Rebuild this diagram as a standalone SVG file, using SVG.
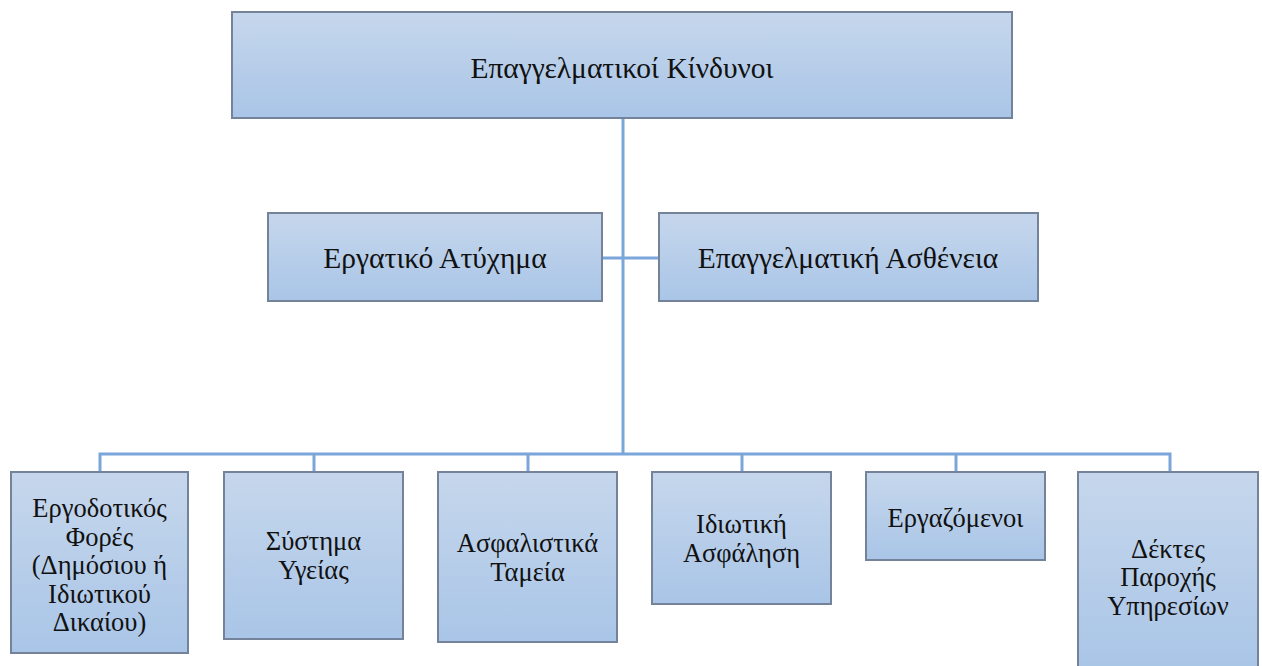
<svg xmlns="http://www.w3.org/2000/svg" width="1262" height="666" viewBox="0 0 1262 666">
  <style>
    .box { fill: url(#boxFill); stroke: #74839a; stroke-width: 2; }
    .conn { stroke: #7aa6da; stroke-width: 3; fill: none; }
  </style>
  <defs>
    <linearGradient id="boxFill" x1="0" y1="0" x2="0" y2="1">
      <stop offset="0" stop-color="#c6d7ec"/>
      <stop offset="1" stop-color="#a9c5e7"/>
    </linearGradient>
  </defs>

  <!-- connectors -->
  <g id="connectors">
    <line class="conn" x1="623" y1="118" x2="623" y2="455"/>
    <line class="conn" x1="602" y1="258" x2="659" y2="258"/>
    <polyline class="conn" points="100,472 100,454 1170,454 1170,472"/>
    <line class="conn" x1="314" y1="454" x2="314" y2="472"/>
    <line class="conn" x1="528" y1="454" x2="528" y2="472"/>
    <line class="conn" x1="742" y1="454" x2="742" y2="472"/>
    <line class="conn" x1="956" y1="454" x2="956" y2="472"/>
  </g>

  <g font-family="Liberation Serif, Times New Roman, serif" fill="#111" text-anchor="middle">
  <g id="root">
    <rect class="box" x="232" y="12" width="780" height="106"/>
    <text font-size="29.5" x="622" y="78">Επαγγελματικοί Κίνδυνοι</text>
  </g>

  <g id="accident">
    <rect class="box" x="268" y="213" width="334" height="88"/>
    <text font-size="29.5" x="435" y="268">Εργατικό Ατύχημα</text>
  </g>

  <g id="disease">
    <rect class="box" x="659" y="213" width="379" height="88"/>
    <text font-size="29.5" x="848" y="268">Επαγγελματική Ασθένεια</text>
  </g>

  <g id="employers">
    <rect class="box" x="11" y="472" width="177" height="181"/>
    <text font-size="26.5" x="99.5" y="517">Εργοδοτικός</text>
    <text font-size="26.5" x="99.5" y="546">Φορές</text>
    <text font-size="26.5" x="99.5" y="574">(Δημόσιου ή</text>
    <text font-size="26.5" x="99.5" y="603">Ιδιωτικού</text>
    <text font-size="26.5" x="99.5" y="631">Δικαίου)</text>
  </g>

  <g id="health">
    <rect class="box" x="224" y="472" width="179" height="167"/>
    <text font-size="26.5" x="313.5" y="550">Σύστημα</text>
    <text font-size="26.5" x="313.5" y="578.5">Υγείας</text>
  </g>

  <g id="funds">
    <rect class="box" x="438" y="472" width="179" height="170"/>
    <text font-size="26.5" x="527.5" y="552">Ασφαλιστικά</text>
    <text font-size="26.5" x="527.5" y="580.5">Ταμεία</text>
  </g>

  <g id="private">
    <rect class="box" x="652" y="472" width="179" height="132"/>
    <text font-size="26.5" x="741.5" y="533">Ιδιωτική</text>
    <text font-size="26.5" x="741.5" y="561.5">Ασφάληση</text>
  </g>

  <g id="workers">
    <rect class="box" x="866" y="472" width="179" height="88"/>
    <text font-size="26.5" x="955.5" y="527">Εργαζόμενοι</text>
  </g>

  <g id="recipients">
    <rect class="box" x="1078" y="472" width="180" height="200"/>
    <text font-size="26.5" x="1168" y="557.5">Δέκτες</text>
    <text font-size="26.5" x="1168" y="586">Παροχής</text>
    <text font-size="26.5" x="1168" y="614.5">Υπηρεσίων</text>
  </g>
  </g>
</svg>
